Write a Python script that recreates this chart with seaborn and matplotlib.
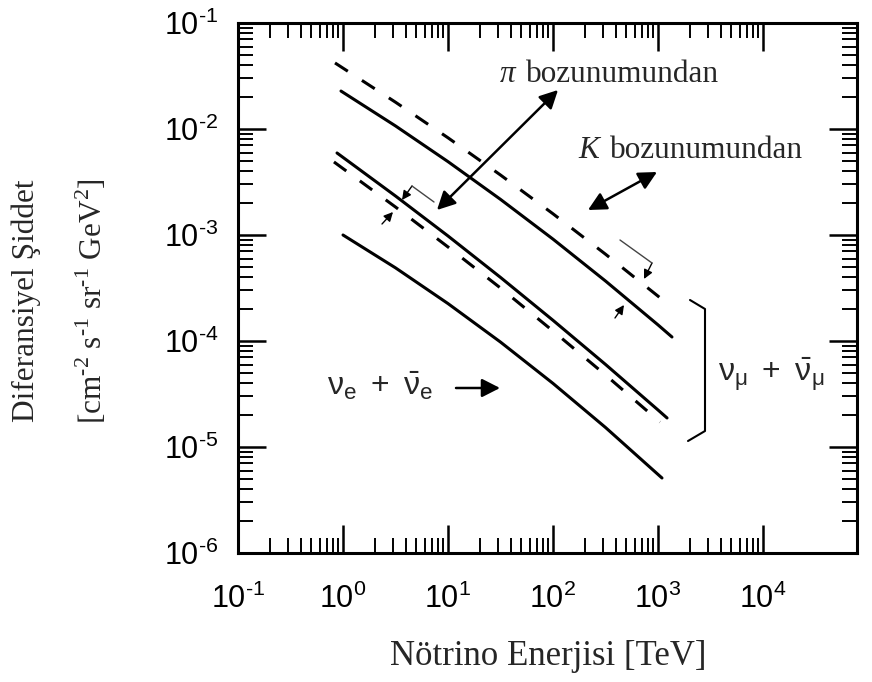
import numpy as np
import pandas as pd
import matplotlib
matplotlib.use("Agg")
import matplotlib.pyplot as plt
from matplotlib.ticker import FixedLocator, FixedFormatter, NullFormatter
from matplotlib.lines import Line2D
import seaborn as sns

# ---------------- data ----------------
E_mu_dashed_hi = [0.839, 3.162, 10, 31.62, 100, 316.2, 1000, 1300]
I_mu_dashed_hi = [4.20e-2, 1.79e-2, 8.26e-3, 3.68e-3, 1.585e-3, 6.59e-4, 2.65e-4, 2.14e-4]

E_mu_solid_hi = [0.957, 3.162, 10, 31.62, 100, 316.2, 1000, 1358]
I_mu_solid_hi = [2.28e-2, 1.069e-2, 4.92e-3, 2.168e-3, 9.14e-4, 3.68e-4, 1.419e-4, 1.091e-4]

E_mu_solid_lo = [0.877, 3.162, 10, 31.62, 100, 316.2, 1000, 1219]
I_mu_solid_lo = [5.94e-3, 2.333e-3, 9.79e-4, 3.98e-4, 1.567e-4, 6.01e-5, 2.234e-5, 1.879e-5]

E_mu_dashed_lo = [0.82, 3.162, 10, 31.62, 100, 316.2, 1045]
I_mu_dashed_lo = [4.89e-3, 1.837e-3, 7.71e-4, 3.16e-4, 1.242e-4, 4.78e-5, 1.72e-5]

E_e_solid = [1.0, 3.162, 10, 31.62, 100, 316.2, 1091]
I_e_solid = [1.0e-3, 4.90e-4, 2.254e-4, 9.77e-5, 3.98e-5, 1.528e-5, 5.1e-6]

x_major = [1e-1, 1e0, 1e1, 1e2, 1e3, 1e4]
x_labels = [r"$10^{‐1}$", r"$10^{0}$", r"$10^{1}$", r"$10^{2}$", r"$10^{3}$", r"$10^{4}$"]
y_major = [1e-6, 1e-5, 1e-4, 1e-3, 1e-2, 1e-1]
y_labels = [r"$10^{‐6}$", r"$10^{‐5}$", r"$10^{‐4}$", r"$10^{‐3}$", r"$10^{‐2}$", r"$10^{‐1}$"]

x_title = "Nötrino Enerjisi [TeV]"
y_title1 = "Diferansiyel Şiddet"
y_title2 = r"[cm$^{\mathregular{‐2}}$ s$^{\mathregular{‐1}}$ sr$^{\mathregular{‐1}}$ GeV$^{\mathregular{2}}$]"

# ---------------- style ----------------
sns.set_theme(style="white")
plt.rcParams["mathtext.fontset"] = "custom"
plt.rcParams["mathtext.rm"] = "Liberation Sans"
plt.rcParams["mathtext.it"] = "Liberation Sans"
plt.rcParams["mathtext.bf"] = "Liberation Sans:bold"
plt.rcParams["font.family"] = ["Liberation Serif", "DejaVu Serif"]

W, H = 872, 682
fig = plt.figure(figsize=(W / 100, H / 100), dpi=100)
fig.patch.set_facecolor("white")
ax = fig.add_axes([238 / W, 1 - 553 / H, (857 - 238) / W, (553 - 23) / H])
ax.set_facecolor("white")

ax.set_xscale("log")
ax.set_yscale("log")

LW = 2.2
DASH = (0, (5, 5.5))
curves = [
    (E_mu_dashed_hi, I_mu_dashed_hi, DASH),
    (E_mu_solid_hi, I_mu_solid_hi, "-"),
    (E_mu_solid_lo, I_mu_solid_lo, "-"),
    (E_mu_dashed_lo, I_mu_dashed_lo, DASH),
    (E_e_solid, I_e_solid, "-"),
]
for E, I, ls in curves:
    df = pd.DataFrame({"E": E, "I": I})
    sns.lineplot(data=df, x="E", y="I", ax=ax, color="black", lw=LW,
                 linestyle=ls, sort=False, estimator=None)

ax.set_xlim(0.1, 10 ** 4.895)
ax.set_ylim(1e-6, 1e-1)
ax.set_xlabel("")
ax.set_ylabel("")

# ticks
x_minor = [m * 10.0 ** d for d in range(-1, 4) for m in range(2, 10)]
y_minor = [m * 10.0 ** d for d in range(-6, -1) for m in range(2, 10)]
ax.xaxis.set_major_locator(FixedLocator(x_major))
ax.xaxis.set_major_formatter(FixedFormatter(x_labels))
ax.xaxis.set_minor_locator(FixedLocator(x_minor))
ax.xaxis.set_minor_formatter(NullFormatter())
ax.yaxis.set_major_locator(FixedLocator(y_major))
ax.yaxis.set_major_formatter(FixedFormatter(y_labels))
ax.yaxis.set_minor_locator(FixedLocator(y_minor))
ax.yaxis.set_minor_formatter(NullFormatter())

ax.tick_params(which="both", direction="in", top=True, right=True,
               bottom=True, left=True,
               labeltop=False, labelright=False, colors="black")
ax.tick_params(which="major", length=20, width=1.8, labelsize=22)
ax.tick_params(axis="x", which="major", pad=22)
ax.tick_params(axis="y", which="major", pad=14)
ax.tick_params(which="minor", length=11, width=1.4)
for sp in ax.spines.values():
    sp.set_visible(True)
    sp.set_color("black")
    sp.set_linewidth(2.2)

# ---------------- annotations (figure pixel coordinates) ----------------
def P(x, y):
    return (x, H - y)

def F(x, y):
    return (x / W, 1 - y / H)

SERIF = ["Liberation Serif", "DejaVu Serif"]
FS = 22.5

# axis titles
fig.text(*F(548, 665), x_title, ha="center", va="baseline", fontsize=25, family=SERIF)
fig.text(*F(26, 301), y_title1, ha="center", va="center", rotation=90, fontsize=FS, family=SERIF)
fig.text(*F(92, 301), y_title2, ha="center", va="center", rotation=90, fontsize=FS, family=SERIF)

# decay labels
fig.text(*F(500, 82), "π", ha="left", va="baseline", fontsize=FS, family=SERIF, style="italic")
fig.text(*F(526, 82), "bozunumundan", ha="left", va="baseline", fontsize=FS, family=SERIF)
fig.text(*F(578, 158), "K", ha="left", va="baseline", fontsize=FS, family=SERIF, style="italic")
fig.text(*F(610, 158), "bozunumundan", ha="left", va="baseline", fontsize=FS, family=SERIF)

big = dict(arrowstyle="<|-|>,head_length=0.55,head_width=0.28", color="black",
           lw=1.8, mutation_scale=20, shrinkA=0, shrinkB=0)
ax.annotate("", xy=P(437, 210), xytext=P(558, 90), xycoords="figure pixels",
            textcoords="figure pixels", arrowprops=big)
ax.annotate("", xy=P(588, 210), xytext=P(657, 172), xycoords="figure pixels",
            textcoords="figure pixels", arrowprops=big)
ax.annotate("", xy=P(500, 388), xytext=P(456, 388), xycoords="figure pixels",
            textcoords="figure pixels",
            arrowprops=dict(arrowstyle="-|>,head_length=0.55,head_width=0.28",
                            color="black", lw=1.8, mutation_scale=20, shrinkA=0, shrinkB=0))

# neutrino labels
fig.text(*F(327, 395), r"$\nu_{e}\ +\ \bar{\nu}_{e}$", ha="left", va="baseline", fontsize=23)
fig.text(*F(718, 381), r"$\nu_{\mu}\ +\ \bar{\nu}_{\mu}$", ha="left", va="baseline", fontsize=23)

# bracket
bx = [690, 705, 705, 688]
by = [300, 309, 431, 441]
fig.add_artist(Line2D([x / W for x in bx], [1 - y / H for y in by],
                      transform=fig.transFigure, color="black", lw=1.5))

# thin pointer lines
thin = dict(color="#444444", lw=1.0)
fig.add_artist(Line2D([434 / W, 412 / W], [1 - 202 / H, 1 - 186 / H],
                      transform=fig.transFigure, **thin))
fig.add_artist(Line2D([620 / W, 652 / W], [1 - 240 / H, 1 - 263 / H],
                      transform=fig.transFigure, **thin))
small = dict(arrowstyle="-|>,head_length=0.6,head_width=0.3", color="black",
             lw=1.0, mutation_scale=9, shrinkA=0, shrinkB=0)
for (x0, y0), (x1, y1) in [((412, 186), (402, 200)), ((382, 224), (393, 212)),
                           ((652, 263), (644, 279)), ((615, 318), (624, 305))]:
    ax.annotate("", xy=P(x1, y1), xytext=P(x0, y0), xycoords="figure pixels",
                textcoords="figure pixels", arrowprops=small)

fig.savefig("out.png", dpi=100, facecolor="white")
